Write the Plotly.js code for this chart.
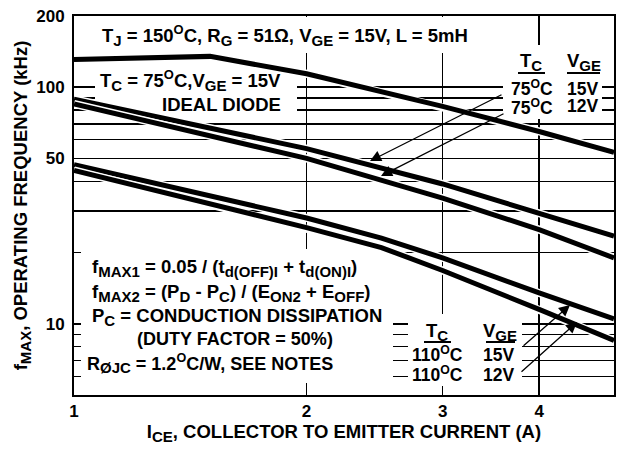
<!DOCTYPE html>
<html><head><meta charset="utf-8">
<script src="https://cdn.plot.ly/plotly-3.0.1.min.js"></script>
<style>html,body{margin:0;padding:0;background:#fff}</style>
</head><body>
<div id="chart" style="width:617px;height:452px"></div>
<script>
// ---- data (I_CE in A, f_MAX in kHz) ----
const iceTop = [1, 1.5, 2, 3, 4, 5];
const fTop   = [131, 135, 114, 83, 65, 53];

const ice75 = [1, 2, 3, 4, 5];
const f75_15V = [89, 55, 39, 29.5, 23.5];
const f75_12V = [85, 50, 34, 25, 19];

const ice110 = [1, 2, 2.5, 3, 4, 5];
const f110_15V = [47, 28, 23, 19, 13.5, 10.5];
const f110_12V = [44.5, 25.5, 21, 16.8, 11.5, 8.5];

const xTickVals = [1, 2, 3, 4, 5];
const xTickText = ['1', '2', '3', '4', '5'];
const yTickVals = [6, 7, 8, 9, 10, 20, 30, 40, 50, 60, 70, 80, 90, 100, 200];
const yTickText = ['', '', '', '', '10', '', '', '', '50', '', '', '', '', '100', '200'];

const xRange = [0, Math.log10(5)];
const yRange = [Math.log10(5), Math.log10(200)];

// ---- layout helpers (pixel -> paper / data) ----
const L = 74, R = 614, T = 16, B = 395;
const px = X => (X - L) / (R - L);
const py = Y => (B - Y) / (B - T);
const dx = X => Math.pow(10, xRange[0] + (xRange[1] - xRange[0]) * px(X));
const dy = Y => Math.pow(10, yRange[0] + (yRange[1] - yRange[0]) * py(Y));

const FONT = 'Liberation Sans, Arial, Helvetica, sans-serif';
const AF = {family: FONT, size: 18.5, color: '#000', weight: 'bold'};
const AFm = {family: FONT, size: 18, color: '#000', weight: 'bold'};
const AFs = {family: FONT, size: 17.5, color: '#000', weight: 'bold'};
// slightly larger subscripts than the default 70 %
const sb = s => '<sub><span style="font-size:15px">' + s + '</span></sub>';
const deg = '<sup>O</sup>';

function curve(x, y, name) {
  return [
    {x: x, y: y, xaxis: 'x2', yaxis: 'y2', mode: 'lines', type: 'scatter',
     hoverinfo: 'skip', showlegend: false, line: {color: '#fff', width: 8}},
    {x: x, y: y, xaxis: 'x2', yaxis: 'y2', mode: 'lines', type: 'scatter',
     name: name, showlegend: false, line: {color: '#000', width: 5}}
  ];
}

// the grid subplot (x, y) carries ticks, labels and grid; curves sit on (x2, y2) above it
const gridHolder = {x: [1, 5], y: [5, 200], xaxis: 'x', yaxis: 'y', type: 'scatter',
  mode: 'markers', marker: {opacity: 0, size: 1}, hoverinfo: 'skip', showlegend: false};

const data = [gridHolder].concat(
  curve(iceTop, fTop, 'f_MAX limit'),
  curve(ice75, f75_15V, 'TC 75C VGE 15V'),
  curve(ice75, f75_12V, 'TC 75C VGE 12V'),
  curve(ice110, f110_15V, 'TC 110C VGE 15V'),
  curve(ice110, f110_12V, 'TC 110C VGE 12V')
);

// white panels behind the notes (hide grid, stay under the curves)
function box(x0, y0, x1, y1) {
  return {type: 'rect', xref: 'x2', yref: 'y2', layer: 'below',
    x0: dx(x0), x1: dx(x1), y0: dy(y1), y1: dy(y0),
    fillcolor: '#ffffff', line: {width: 0}};
}
function uline(x0, x1, y) {
  return {type: 'line', xref: 'paper', yref: 'paper', layer: 'above',
    x0: px(x0), x1: px(x1), y0: py(y), y1: py(y), line: {color: '#000', width: 2}};
}

function txt(text, X, Y, xanchor, font) {
  return {text: text, xref: 'paper', yref: 'paper', x: px(X), y: py(Y),
    xanchor: xanchor || 'center', yanchor: 'middle', showarrow: false,
    align: 'left', font: font || AF};
}
function arrow(hx, hy, tx, ty) {
  return {text: '', xref: 'paper', yref: 'paper', x: px(hx), y: py(hy),
    ax: tx - hx, ay: ty - hy, showarrow: true, arrowhead: 2, arrowsize: 1.7,
    arrowwidth: 1.3, arrowcolor: '#000', standoff: 0, startstandoff: 0};
}

const annotations = [
  txt('T' + sb('J') + ' = 150' + deg + 'C, R' + sb('G') + ' = 51\u03A9, V' + sb('GE') + ' = 15V, L = 5mH', 100, 35, 'left'),
  txt('T' + sb('C') + ' = 75' + deg + 'C,V' + sb('GE') + ' = 15V', 283, 81, 'right'),
  txt('IDEAL DIODE', 283, 104, 'right'),
  txt('T' + sb('C'), 531, 62),
  txt('V' + sb('GE'), 584, 62),
  txt('75' + deg + 'C', 532, 88, 'center', AFs),
  txt('15V', 582, 89, 'center', AFs),
  txt('75' + deg + 'C', 532, 107, 'center', AFs),
  txt('12V', 582, 106, 'center', AFs),
  txt('f' + sb('MAX1') + ' = 0.05 / (t' + sb('d(OFF)I') + ' + t' + sb('d(ON)I') + ')', 90, 268, 'left'),
  txt('f' + sb('MAX2') + ' = (P' + sb('D') + ' - P' + sb('C') + ') / (E' + sb('ON2') + ' + E' + sb('OFF') + ')', 90, 293, 'left'),
  txt('P' + sb('C') + ' = CONDUCTION DISSIPATION', 90, 317, 'left'),
  txt('(DUTY FACTOR = 50%)', 135, 339, 'left', AFm),
  txt('R' + sb('\u00D8JC') + ' = 1.2' + deg + 'C/W, SEE NOTES', 85, 363, 'left', AFm),
  txt('T' + sb('C'), 437, 332),
  txt('110' + deg + 'C', 437, 354, 'center', AFs),
  txt('110' + deg + 'C', 437, 374, 'center', AFs),
  txt('V' + sb('GE'), 500, 332),
  txt('15V', 498, 355, 'center', AFs),
  txt('12V', 498, 375, 'center', AFs),
  arrow(370, 161, 503, 94),
  arrow(381, 176, 505, 113),
  arrow(570, 305, 522, 347),
  arrow(577, 322, 520, 373)
];

const shapes = [
  box(75, 17, 490, 53),
  box(95, 68, 297, 115),
  box(503, 45, 602, 119),
  box(81, 249, 393, 383),
  box(408, 314, 522, 386),
  uline(518, 545, 73),
  uline(567, 600, 73),
  uline(424, 451, 342),
  uline(486, 515, 342)
];

const gridAxis = {
  showgrid: true, gridcolor: '#000', gridwidth: 1.5,
  showline: true, linecolor: '#000', linewidth: 2, mirror: true,
  ticks: '', zeroline: false, fixedrange: true,
  tickfont: {family: FONT, size: 17, color: '#000', weight: 'bold'}
};
const plainAxis = {
  showgrid: false, zeroline: false, showticklabels: false, ticks: '',
  showline: true, linecolor: '#000', linewidth: 2, mirror: true, fixedrange: true
};

const layout = {
  width: 617, height: 452,
  margin: {l: L, r: 617 - R, t: T, b: 452 - B, pad: 0},
  paper_bgcolor: '#ffffff', plot_bgcolor: 'rgba(0,0,0,0)',
  font: {family: FONT, color: '#000', size: 17, weight: 'bold'},
  showlegend: false,
  xaxis: Object.assign({}, gridAxis, {
    type: 'log', range: xRange, tickvals: xTickVals, ticktext: xTickText,
    ticklabelstandoff: 0,
    title: {text: 'I' + sb('CE') + ', COLLECTOR TO EMITTER CURRENT (A)', standoff: 0,
            font: {family: FONT, size: 18.5, color: '#000', weight: 'bold'}}
  }),
  yaxis: Object.assign({}, gridAxis, {
    type: 'log', range: yRange, tickvals: yTickVals, ticktext: yTickText,
    ticklabelstandoff: 4,
    title: {text: 'f' + sb('MAX') + ', OPERATING FREQUENCY (kHz)', standoff: 4,
            font: {family: FONT, size: 18.5, color: '#000', weight: 'bold'}}
  }),
  xaxis2: Object.assign({}, plainAxis, {type: 'log', range: xRange, anchor: 'y2'}),
  yaxis2: Object.assign({}, plainAxis, {type: 'log', range: yRange, anchor: 'x2'}),
  shapes: shapes,
  annotations: annotations
};

Plotly.newPlot('chart', data, layout, {displayModeBar: false, staticPlot: true});
</script>
</body></html>
